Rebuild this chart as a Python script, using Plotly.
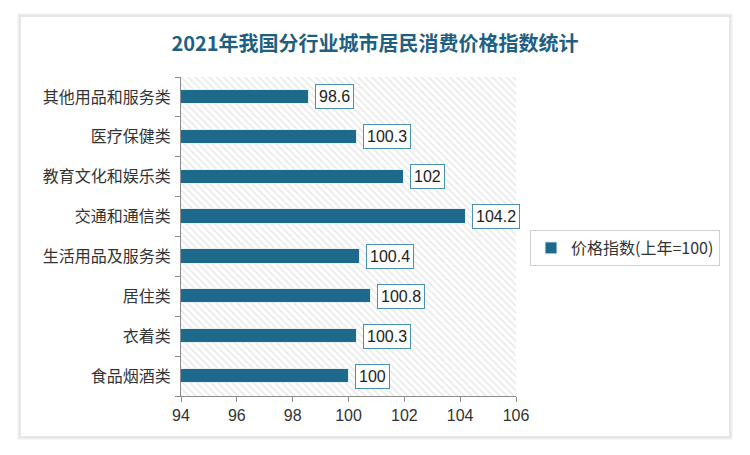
import plotly.graph_objects as go

categories = ["食品烟酒类", "衣着类", "居住类", "生活用品及服务类",
              "交通和通信类", "教育文化和娱乐类", "医疗保健类", "其他用品和服务类"]
values = [100, 100.3, 100.8, 100.4, 104.2, 102, 100.3, 98.6]
series_name = "价格指数(上年=100)"
title_text = "2021年我国分行业城市居民消费价格指数统计"
x_ticks = [94, 96, 98, 100, 102, 104, 106]

x_min, x_max = x_ticks[0], x_ticks[-1]
bar_color = "#1d6a8d"
font_cjk = "Noto Sans CJK SC, Noto Sans, sans-serif"

fig = go.Figure()

# decorative hatched plot-area background
fig.add_trace(go.Bar(
    y=categories, x=[x_max - x_min] * len(categories), base=[x_min] * len(categories),
    orientation="h", width=1.0, showlegend=False, hoverinfo="skip",
    marker=dict(color="white", line=dict(width=0),
                pattern=dict(shape="\\", fgcolor="#d0d0d0", bgcolor="white",
                             size=5, solidity=0.3)),
))

fig.add_trace(go.Bar(
    y=categories, x=[v - x_min for v in values], base=[x_min] * len(values),
    orientation="h", width=0.36, name=series_name,
    marker=dict(color=bar_color, line=dict(color="#e8f1f5", width=1)),
))

for c, v in zip(categories, values):
    fig.add_annotation(
        x=v, y=c, xref="x", yref="y", text=f"{v:g}", showarrow=False,
        xanchor="left", xshift=6, yanchor="middle",
        font=dict(family="Liberation Sans, sans-serif", size=16, color="#222222"),
        bgcolor="white", bordercolor="#4a90b0", borderwidth=1, borderpad=3,
    )

# card with soft shadow
for i, col in enumerate(["#f6f6f6", "#efefef", "#e6e6e6"]):
    d = 3 - i
    fig.add_shape(type="rect", xref="paper", yref="paper", layer="below",
                  x0=(20 - d - 181) / 335, x1=(730 + d - 181) / 335,
                  y0=(396 - 437 - d) / 319, y1=(396 - 16 + d) / 319,
                  line=dict(width=0), fillcolor=col)
fig.add_shape(type="rect", xref="paper", yref="paper", layer="below",
              x0=(21 - 181) / 335, x1=(729 - 181) / 335,
              y0=(396 - 436) / 319, y1=(396 - 17) / 319,
              line=dict(width=0), fillcolor="white")

fig.update_layout(
    width=750, height=455,
    margin=dict(l=181, r=234, t=77, b=59),
    paper_bgcolor="white", plot_bgcolor="white",
    barmode="overlay", bargap=0,
    title=dict(text=title_text, x=0.5, xref="container", xanchor="center",
               y=1 - 44 / 455, yref="container", yanchor="middle",
               font=dict(family=font_cjk, size=20, color="#1f5f82", weight="bold")),
    legend=dict(x=(530 - 181) / 335, y=(396 - 230) / 319, xanchor="left", yanchor="top",
                bgcolor="white", bordercolor="#d0d0d0", borderwidth=1,
                itemwidth=30,
                font=dict(family=font_cjk, size=16, color="#333333")),
    showlegend=True,
    font=dict(family=font_cjk),
)

fig.update_xaxes(range=[x_min, x_max], tickvals=x_ticks, ticktext=[str(t) for t in x_ticks],
                 showgrid=False, zeroline=False, showline=True, linecolor="#8c8c8c",
                 ticks="outside", ticklen=5, tickcolor="#8c8c8c",
                 tickfont=dict(family="Liberation Sans Narrow, Liberation Sans, sans-serif",
                               size=16, color="#333333"))
fig.update_yaxes(categoryorder="array", categoryarray=categories,
                 showgrid=False, zeroline=False, showline=True, linecolor="#8c8c8c",
                 ticks="outside", ticklen=5, tickcolor="#8c8c8c", tickson="boundaries",
                 ticklabelstandoff=6,
                 tickfont=dict(family=font_cjk, size=16, color="#333333"))

fig.write_html("out.html")
